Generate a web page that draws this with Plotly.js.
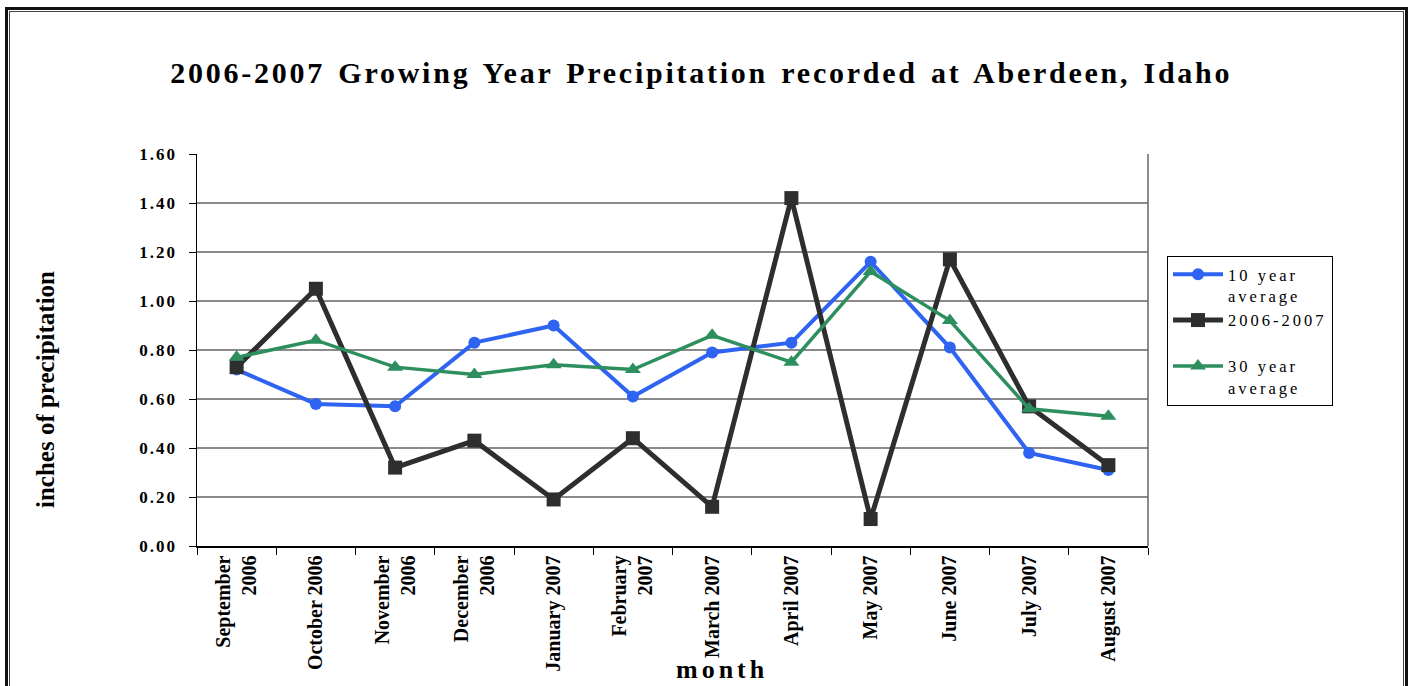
<!DOCTYPE html>
<html>
<head>
<meta charset="utf-8">
<script src="https://cdn.plot.ly/plotly-3.0.1.min.js"></script>
<style>
  html, body { margin: 0; padding: 0; background: #fff; overflow: hidden; }
  #frame { position: absolute; left: 5px; top: 7px; width: 1397px; height: 700px;
           border: 3px solid #111; }
  #frame-inner { position: absolute; left: 1px; top: 1px; right: 1px; bottom: 1px;
                 border: 1px solid #444; }
  #chart { position: absolute; left: 0; top: 0; width: 1414px; height: 686px; }
  /* wide-set lettering for the horizontal texts (global so text measuring sees it too) */
  .gtitle { letter-spacing: 2.75px; word-spacing: 3px; }
  .ytick text { letter-spacing: 2px; }
  .legendtext { letter-spacing: 3px; }
  .annotation-text.wide { letter-spacing: 4px; }
</style>
</head>
<body>
<div id="chart"></div>
<div id="frame"><div id="frame-inner"></div></div>
<script>
// Monthly precipitation (inches), Sept 2006 – Aug 2007
const months = [
  'September<br>2006', 'October 2006', 'November<br>2006', 'December<br>2006',
  'January 2007', 'February<br>2007', 'March 2007', 'April 2007',
  'May 2007', 'June 2007', 'July 2007', 'August 2007'
];
const tenYearAvg    = [0.72, 0.58, 0.57, 0.83, 0.90, 0.61, 0.79, 0.83, 1.16, 0.81, 0.38, 0.31];
const season0607    = [0.73, 1.05, 0.32, 0.43, 0.19, 0.44, 0.16, 1.42, 0.11, 1.17, 0.57, 0.33];
const thirtyYearAvg = [0.77, 0.84, 0.73, 0.70, 0.74, 0.72, 0.86, 0.75, 1.12, 0.92, 0.56, 0.53];
const seriesNames   = ['10 year<br>average', '2006-2007<br> ', '30 year<br>average'];

const serif = 'Liberation Serif, Times New Roman, serif';

const traces = [
  {
    x: months, y: tenYearAvg, name: seriesNames[0], type: 'scatter', mode: 'lines+markers',
    line: { color: '#2f63f2', width: 4 },
    marker: { symbol: 'circle', size: 12, color: '#2f63f2' }
  },
  {
    x: months, y: season0607, name: seriesNames[1], type: 'scatter', mode: 'lines+markers',
    line: { color: '#2e2e2e', width: 5 },
    marker: { symbol: 'square', size: 14, color: '#2e2e2e' }
  },
  {
    x: months, y: thirtyYearAvg, name: seriesNames[2], type: 'scatter', mode: 'lines+markers',
    line: { color: '#2e8f5e', width: 3.5 },
    marker: { symbol: 'triangle-up', size: 14, color: '#2e8f5e' }
  }
];

const layout = {
  width: 1414, height: 686,
  margin: { l: 197, r: 266, t: 154, b: 140 },
  paper_bgcolor: '#fff', plot_bgcolor: '#fff',
  font: { family: serif, color: '#000' },
  title: {
    text: '<b>2006-2007 Growing Year Precipitation recorded at Aberdeen, Idaho</b>',
    font: { family: serif, size: 30, color: '#000' },
    x: 0.496, xanchor: 'center', y: 0.895, yanchor: 'middle'
  },
  xaxis: {
    type: 'category', range: [-0.5, 11.5], autorange: false,
    showgrid: false, zeroline: false,
    showline: true, linecolor: '#000', linewidth: 1.5,
    ticks: 'outside', tickson: 'boundaries', ticklen: 7, tickcolor: '#000',
    tickangle: -90,
    tickfont: { family: serif, size: 20, color: '#000', weight: 'bold' }
  },
  yaxis: {
    range: [0, 1.6], dtick: 0.2, tickformat: '.2f',
    showgrid: true, gridcolor: '#8a8a8a', gridwidth: 1.5,
    zeroline: false,
    showline: true, linecolor: '#000', linewidth: 1.5,
    ticks: 'outside', ticklen: 7, tickcolor: '#000', ticklabelstandoff: 8,
    tickfont: { family: serif, size: 17, color: '#000', weight: 'bold' }
  },
  legend: {
    x: 1.02, xanchor: 'left', y: 0.74, yanchor: 'top',
    bordercolor: '#000', borderwidth: 1, bgcolor: '#fff',
    font: { family: serif, size: 16.5, color: '#000' },
    valign: 'top', tracegroupgap: 0, itemwidth: 50
  },
  shapes: [
    { type: 'line', xref: 'paper', yref: 'paper', x0: 1, x1: 1, y0: 0, y1: 1,
      line: { color: '#666', width: 1.5 } }
  ],
  annotations: [
    { text: '<b>month</b>', xref: 'paper', yref: 'paper', x: 0.553, y: -0.316,
      xanchor: 'center', yanchor: 'middle', showarrow: false,
      font: { family: serif, size: 26, color: '#000' } },
    { text: '<b>inches of precipitation</b>', xref: 'paper', yref: 'paper',
      x: -0.16, y: 0.40, xanchor: 'center', yanchor: 'middle', textangle: -90,
      showarrow: false, font: { family: serif, size: 25, color: '#000' } }
  ],
  showlegend: true
};

Plotly.newPlot('chart', traces, layout, { displayModeBar: false, staticPlot: true }).then(function () {
  // only the horizontal "month" label gets the wide letter spacing
  const ann = document.querySelectorAll('#chart .annotation-text');
  if (ann.length) ann[0].classList.add('wide');
});
</script>
</body>
</html>
